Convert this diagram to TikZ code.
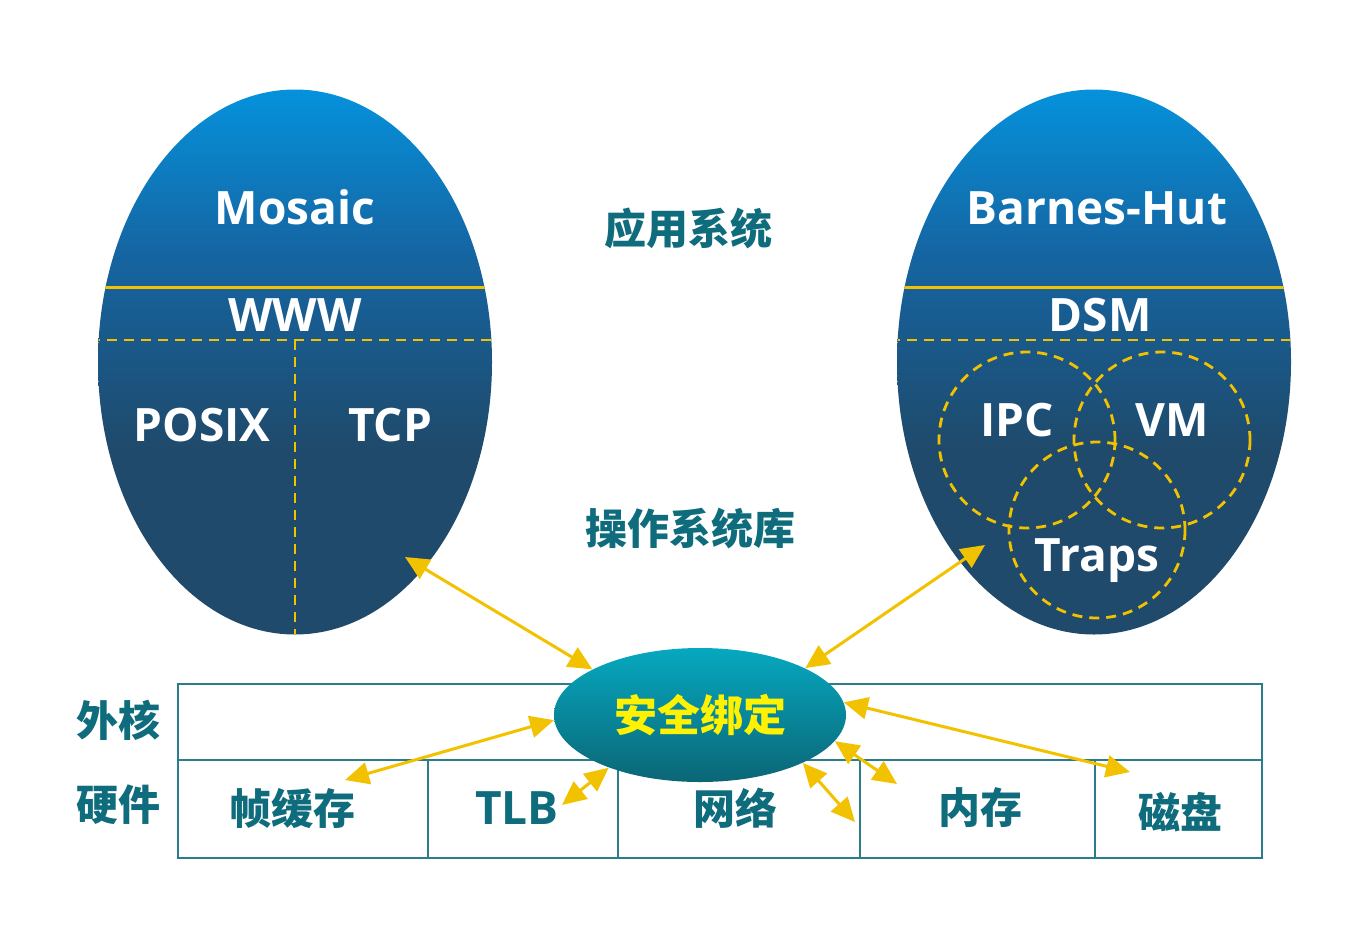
\documentclass[tikz,border=0pt]{standalone}
\usepackage{fontspec}
\setsansfont{Open Sans}
\newfontfamily\cjk{Noto Sans CJK SC}
\usepackage{tikz}
\usetikzlibrary{arrows.meta,shapes.geometric}

\definecolor{eggtop}{HTML}{0592DC}
\definecolor{eggmid}{HTML}{1565A2}
\definecolor{eggbot}{HTML}{1F4A6B}
\definecolor{sectop}{HTML}{06A8C0}
\definecolor{secbot}{HTML}{0B6676}
\definecolor{gold}{HTML}{F2C200}
\definecolor{inktext}{HTML}{0E6C7C}
\definecolor{gridline}{HTML}{2B7D89}

\pgfdeclareverticalshading{eggshade}{100bp}{color(0bp)=(eggbot); color(42bp)=(eggbot); color(60bp)=(eggmid); color(75bp)=(eggtop); color(100bp)=(eggtop)}

\tikzset{
  egg/.style={ellipse, shade, shading=eggshade, minimum width=197pt, minimum height=272.5pt, inner sep=0pt},
  bind/.style={ellipse, top color=sectop, bottom color=secbot, minimum width=146pt, minimum height=67pt, inner sep=0pt,
    font=\cjk\bfseries\fontsize{21.5}{21.5}\selectfont, text=yellow},
  lbl/.style={font=\sffamily\bfseries\fontsize{23}{23}\selectfont, text=white, text height=16.5pt, text depth=0pt, inner sep=0pt},
  hz/.style={font=\cjk\bfseries\fontsize{21}{21}\selectfont, text=inktext, inner sep=0pt},
  tlbl/.style={font=\sffamily\bfseries\fontsize{23}{23}\selectfont, text=inktext, text height=16.5pt, text depth=0pt, inner sep=0pt},
  dsh/.style={gold, line width=1.4pt, dash pattern=on 5pt off 3.5pt},
  link/.style={gold, line width=1.5pt, {Triangle[length=12pt,width=11pt]}-{Triangle[length=12pt,width=11pt]}},
  grid/.style={gridline, line width=1.1pt}
}

\begin{document}
\begin{tikzpicture}[x=0.5pt,y=-0.5pt]
\useasboundingbox[fill=white] (0,0) rectangle (1370,938);

% table
\draw[grid] (178,684) rectangle (1262,858);
\draw[grid] (178,760) -- (1262,760);
\foreach \xx in {428,618,860,1095}
  \draw[grid] (\xx,760) -- (\xx,858);

% eggs
\node[egg] (left) at (295,362) {};
\node[egg] (right) at (1094,362) {};

\begin{scope}
\clip (295,362) ellipse [x radius=197, y radius=272.5];
\draw[gold, line width=1.5pt] (90,287) -- (500,287);
\draw[dsh] (90,340) -- (500,340);
\draw[dsh] (295,340) -- (295,640);
\end{scope}

\begin{scope}
\clip (1094,362) ellipse [x radius=197, y radius=272.5];
\draw[gold, line width=1.5pt] (890,287) -- (1300,287);
\draw[dsh] (890,340) -- (1300,340);
\end{scope}

\draw[dsh] (1027,440) circle [radius=88];
\draw[dsh] (1162,440) circle [radius=88];
\draw[dsh] (1097,530) circle [radius=88];

\node[lbl] (mosaic) at (295,208) {Mosaic};
\node[lbl] (www) at (295,315) {WWW};
\node[lbl] (posix) at (202,425) {POSIX};
\node[lbl] (tcp) at (390,425) {TCP};

\node[lbl] (barnes) at (1097,208) {Barnes-Hut};
\node[lbl] (dsm) at (1100,315) {DSM};
\node[lbl] (ipc) at (1017,420) {IPC};
\node[lbl] (vm) at (1172,420) {VM};
\node[lbl] (traps) at (1097,555) {Traps};

\node[hz] (apps) at (688,228) {应用系统};
\node[hz] (oslib) at (690,528) {操作系统库};

% secure binding
\node[bind] (bind) at (700,715) {安全绑定};

\node[hz] (exo) at (118,720) {外核};
\node[hz] (hw) at (118,805) {硬件};
\node[hz] (fb) at (292,808) {帧缓存};
\node[tlbl] (tlb) at (517,808) {TLB};
\node[hz] (net) at (735,808) {网络};
\node[hz] (mem) at (980,808) {内存};
\node[hz] (disk) at (1180,812) {磁盘};

\coordinate (tcpend) at (405,557);
\coordinate (trapsend) at (985,545);
\coordinate (fbend) at (345,780);
\coordinate (tlbend) at (562,805);
\coordinate (netend) at (855,822);
\coordinate (memend) at (897,784);
\coordinate (diskend) at (1130,772);

\draw[link] (tcpend) -- (bind.157);
\draw[link] (trapsend) -- (bind.24);
\draw[link] (fbend) -- (bind.182);
\draw[link] (tlbend) -- (bind.210);
\draw[link] (netend) -- (bind.335);
\draw[link] (memend) -- (bind.349);
\draw[link] (diskend) -- (bind.5);

\end{tikzpicture}
\end{document}
